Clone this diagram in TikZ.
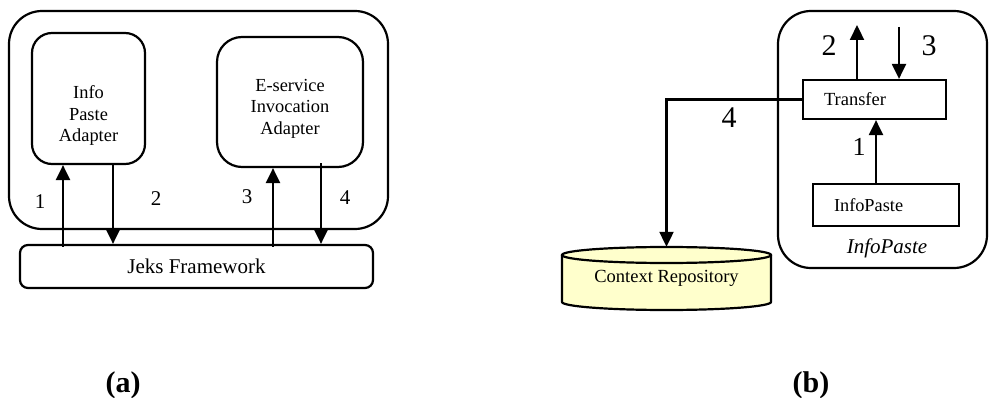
\documentclass[tikz,border=0pt]{standalone}
\usepackage{fontspec}
\setmainfont{Liberation Serif}
\usetikzlibrary{arrows.meta}

\definecolor{repofill}{HTML}{FFFFCC}

\tikzset{
  frame/.style={draw, line width=2.2pt, rounded corners=33pt, inner sep=0pt},
  adapter/.style={draw, line width=2.2pt, inner sep=0pt},
  plainbox/.style={draw, line width=2.2pt, align=left, inner xsep=21pt, inner ysep=0pt},
  flow/.style={line width=2.2pt, -{Triangle[length=15pt,width=14pt]}},
  num/.style={font=\fontsize{21}{24}\selectfont},
  bignum/.style={font=\fontsize{30}{34}\selectfont},
}

\begin{document}
\begin{tikzpicture}[x=1pt, y=-1pt]
  \useasboundingbox (0,0) rectangle (990,398);

  % (a) Jeks side
  \node[frame, minimum width=379pt, minimum height=218pt] (frameA) at (198.5,120) {};
  \node[adapter, rounded corners=20pt, minimum width=113pt, minimum height=131pt] (info) at (88.5,98.5) {};
  \node[align=center, font=\fontsize{18.4}{21.5}\selectfont] (infotext) at (88.5,115.5) {Info\\Paste\\Adapter};
  \node[adapter, rounded corners=25pt, minimum width=146pt, minimum height=130pt] (eserv) at (290,102) {};
  \node[align=center, font=\fontsize{18.4}{21.5}\selectfont] (eservtext) at (290,108.5) {E-service\\Invocation\\Adapter};
  \node[adapter, rounded corners=8pt, minimum width=353pt, minimum height=43pt,
        font=\fontsize{21}{24}\selectfont] (jeks) at (196.5,266.5) {Jeks Framework};

  \coordinate (in1) at ([xshift=-25.5pt]info.south);
  \coordinate (out2) at ([xshift=24.5pt]info.south);
  \coordinate (in3) at ([xshift=-17pt]eserv.south);
  \coordinate (out4) at ([xshift=31pt]eserv.south);
  \draw[flow] ([yshift=-3pt]in1 |- jeks.north) -- (in1);
  \draw[flow] (out2) -- (out2 |- jeks.north);
  \draw[flow] ([yshift=-3pt]in3 |- jeks.north) -- (in3);
  \draw[flow] ([yshift=5pt]out4) -- (out4 |- jeks.north);

  \node[num] (la1) at (40,202) {1};
  \node[num] (la2) at (156,199) {2};
  \node[num] (la3) at (247,197) {3};
  \node[num] (la4) at (345,198) {4};

  % (b) InfoPaste side
  \node[frame, minimum width=209pt, minimum height=257pt] (frameB) at (882.5,139.5) {};
  \node[plainbox, text width=101pt, minimum height=39pt, font=\fontsize{18.5}{21}\selectfont] (transfer) at (874.5,99.5) {Transfer};
  \node[plainbox, text width=104pt, minimum height=42pt, font=\fontsize{18.3}{21}\selectfont] (paste) at (886,205) {InfoPaste};
  \node[font=\itshape\fontsize{21}{24}\selectfont] (pastename) at (887,248) {InfoPaste};

  \coordinate (up2) at (857,25);
  \coordinate (dn3) at (899,27);
  \draw[flow] (up2 |- transfer.north) -- (up2);
  \draw[flow] (dn3) -- (dn3 |- transfer.north);
  \draw[flow] (paste.north -| 876,0) -- (transfer.south -| 876,0);

  \node[bignum] (lb2) at (829,46) {2};
  \node[bignum] (lb3) at (929,46) {3};
  \node[font=\fontsize{26}{30}\selectfont] (lb1) at (859,147) {1};
  \node[bignum] (lb4) at (729,118) {4};

  % context repository cylinder
  \fill[repofill] (562,255) rectangle (771,302);
  \fill[repofill] (666.5,302) ellipse [x radius=104.5, y radius=8];
  \draw[line width=2.2pt] (562,255) -- (562,302) arc[start angle=180, end angle=0, x radius=104.5, y radius=8] -- (771,255);
  \filldraw[fill=repofill, line width=2.2pt] (666.5,255) ellipse [x radius=104.5, y radius=8];
  \node[inner sep=0pt, minimum width=209pt, minimum height=63pt, font=\fontsize{18.5}{21}\selectfont] (repo) at (666.5,278.5) {Context Repository};

  \draw[flow] (transfer.west) -| (repo.north);

  % captions
  \node[font=\bfseries\fontsize{30}{34}\selectfont] (capA) at (123,385) {(a)};
  \node[font=\bfseries\fontsize{30}{34}\selectfont] (capB) at (811,385) {(b)};
\end{tikzpicture}
\end{document}
